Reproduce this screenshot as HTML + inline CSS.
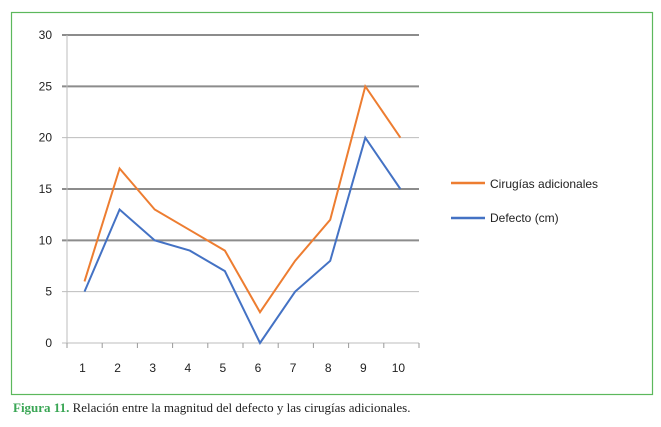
<!DOCTYPE html>
<html><head><meta charset="utf-8"><style>
body{margin:0;background:#fff;width:661px;height:427px;overflow:hidden}
svg{position:absolute;left:0;top:0}
</style></head><body>
<svg width="661" height="427" font-family="Liberation Sans, sans-serif">
<rect x="11.5" y="12.5" width="641" height="382" fill="#fff" stroke="#5cb85c" stroke-width="1.2"/>
<g id="grid"></g><g id="axes"></g><g id="series"></g>
<g>
<line x1="451" y1="183" x2="485" y2="183" stroke="#ed7d31" stroke-width="2.5"/>
<text x="490" y="188" font-size="12" fill="#222">Cirugías adicionales</text>
<line x1="451" y1="218" x2="485" y2="218" stroke="#4472c4" stroke-width="2.5"/>
<text x="490" y="222" font-size="12" fill="#222">Defecto (cm)</text>
</g>
<text x="13" y="412" font-size="13" font-family="Liberation Serif, serif" fill="#222"><tspan fill="#3aa655" font-weight="bold">Figura 11.</tspan> Relación entre la magnitud del defecto y las cirugías adicionales.</text>
</svg>
<script>
const categories=["1","2","3","4","5","6","7","8","9","10"];
const cirugias=[6,17,13,11,9,3,8,12,25,20];
const defecto=[5,13,10,9,7,0,5,8,20,15];
const yTicks=[0,5,10,15,20,25,30];
const NS="http://www.w3.org/2000/svg";
const y=v=>343-v*(308/30);
const x=i=>84.5+i*35.1;
function mk(p,t,a){const e=document.createElementNS(NS,t);for(const k in a)e.setAttribute(k,a[k]);p.appendChild(e);return e;}
const grid=document.getElementById('grid'),axes=document.getElementById('axes'),ser=document.getElementById('series');
yTicks.forEach(v=>{
 const thick=(v===30||v===25||v===15||v===10);
 const l=mk(grid,'line',{x1:62,x2:419,y1:y(v),y2:y(v),stroke:thick?'#8c8c8c':'#bdbdbd','stroke-width':thick?2:1});
 
 
 const t=mk(axes,'text',{x:52,y:y(v)+4,'text-anchor':'end','font-size':12,fill:'#222'});t.textContent=v;
 
 
});
const ax=mk(axes,'line',{x1:67,x2:67,y1:y(30),y2:348,stroke:'#bdbdbd','stroke-width':1});


for(let i=0;i<=categories.length;i++){
 const tk=mk(axes,'line',{x1:67+i*35.2,x2:67+i*35.2,y1:343,y2:348,stroke:'#999'});
 
 
}
categories.forEach((c,i)=>{
 const t=mk(axes,'text',{x:x(i)-2,y:372,'text-anchor':'middle','font-size':12,fill:'#222'});t.textContent=c;
 
 
});
[[cirugias,'#ed7d31','line-cirugias'],[defecto,'#4472c4','line-defecto']].forEach(([d,col,n])=>{
 const p=mk(ser,'polyline',{points:d.map((v,i)=>x(i)+','+y(v)).join(' '),fill:'none',stroke:col,'stroke-width':2,'stroke-linejoin':'miter'});
 
 
});
</script>
</body></html>
